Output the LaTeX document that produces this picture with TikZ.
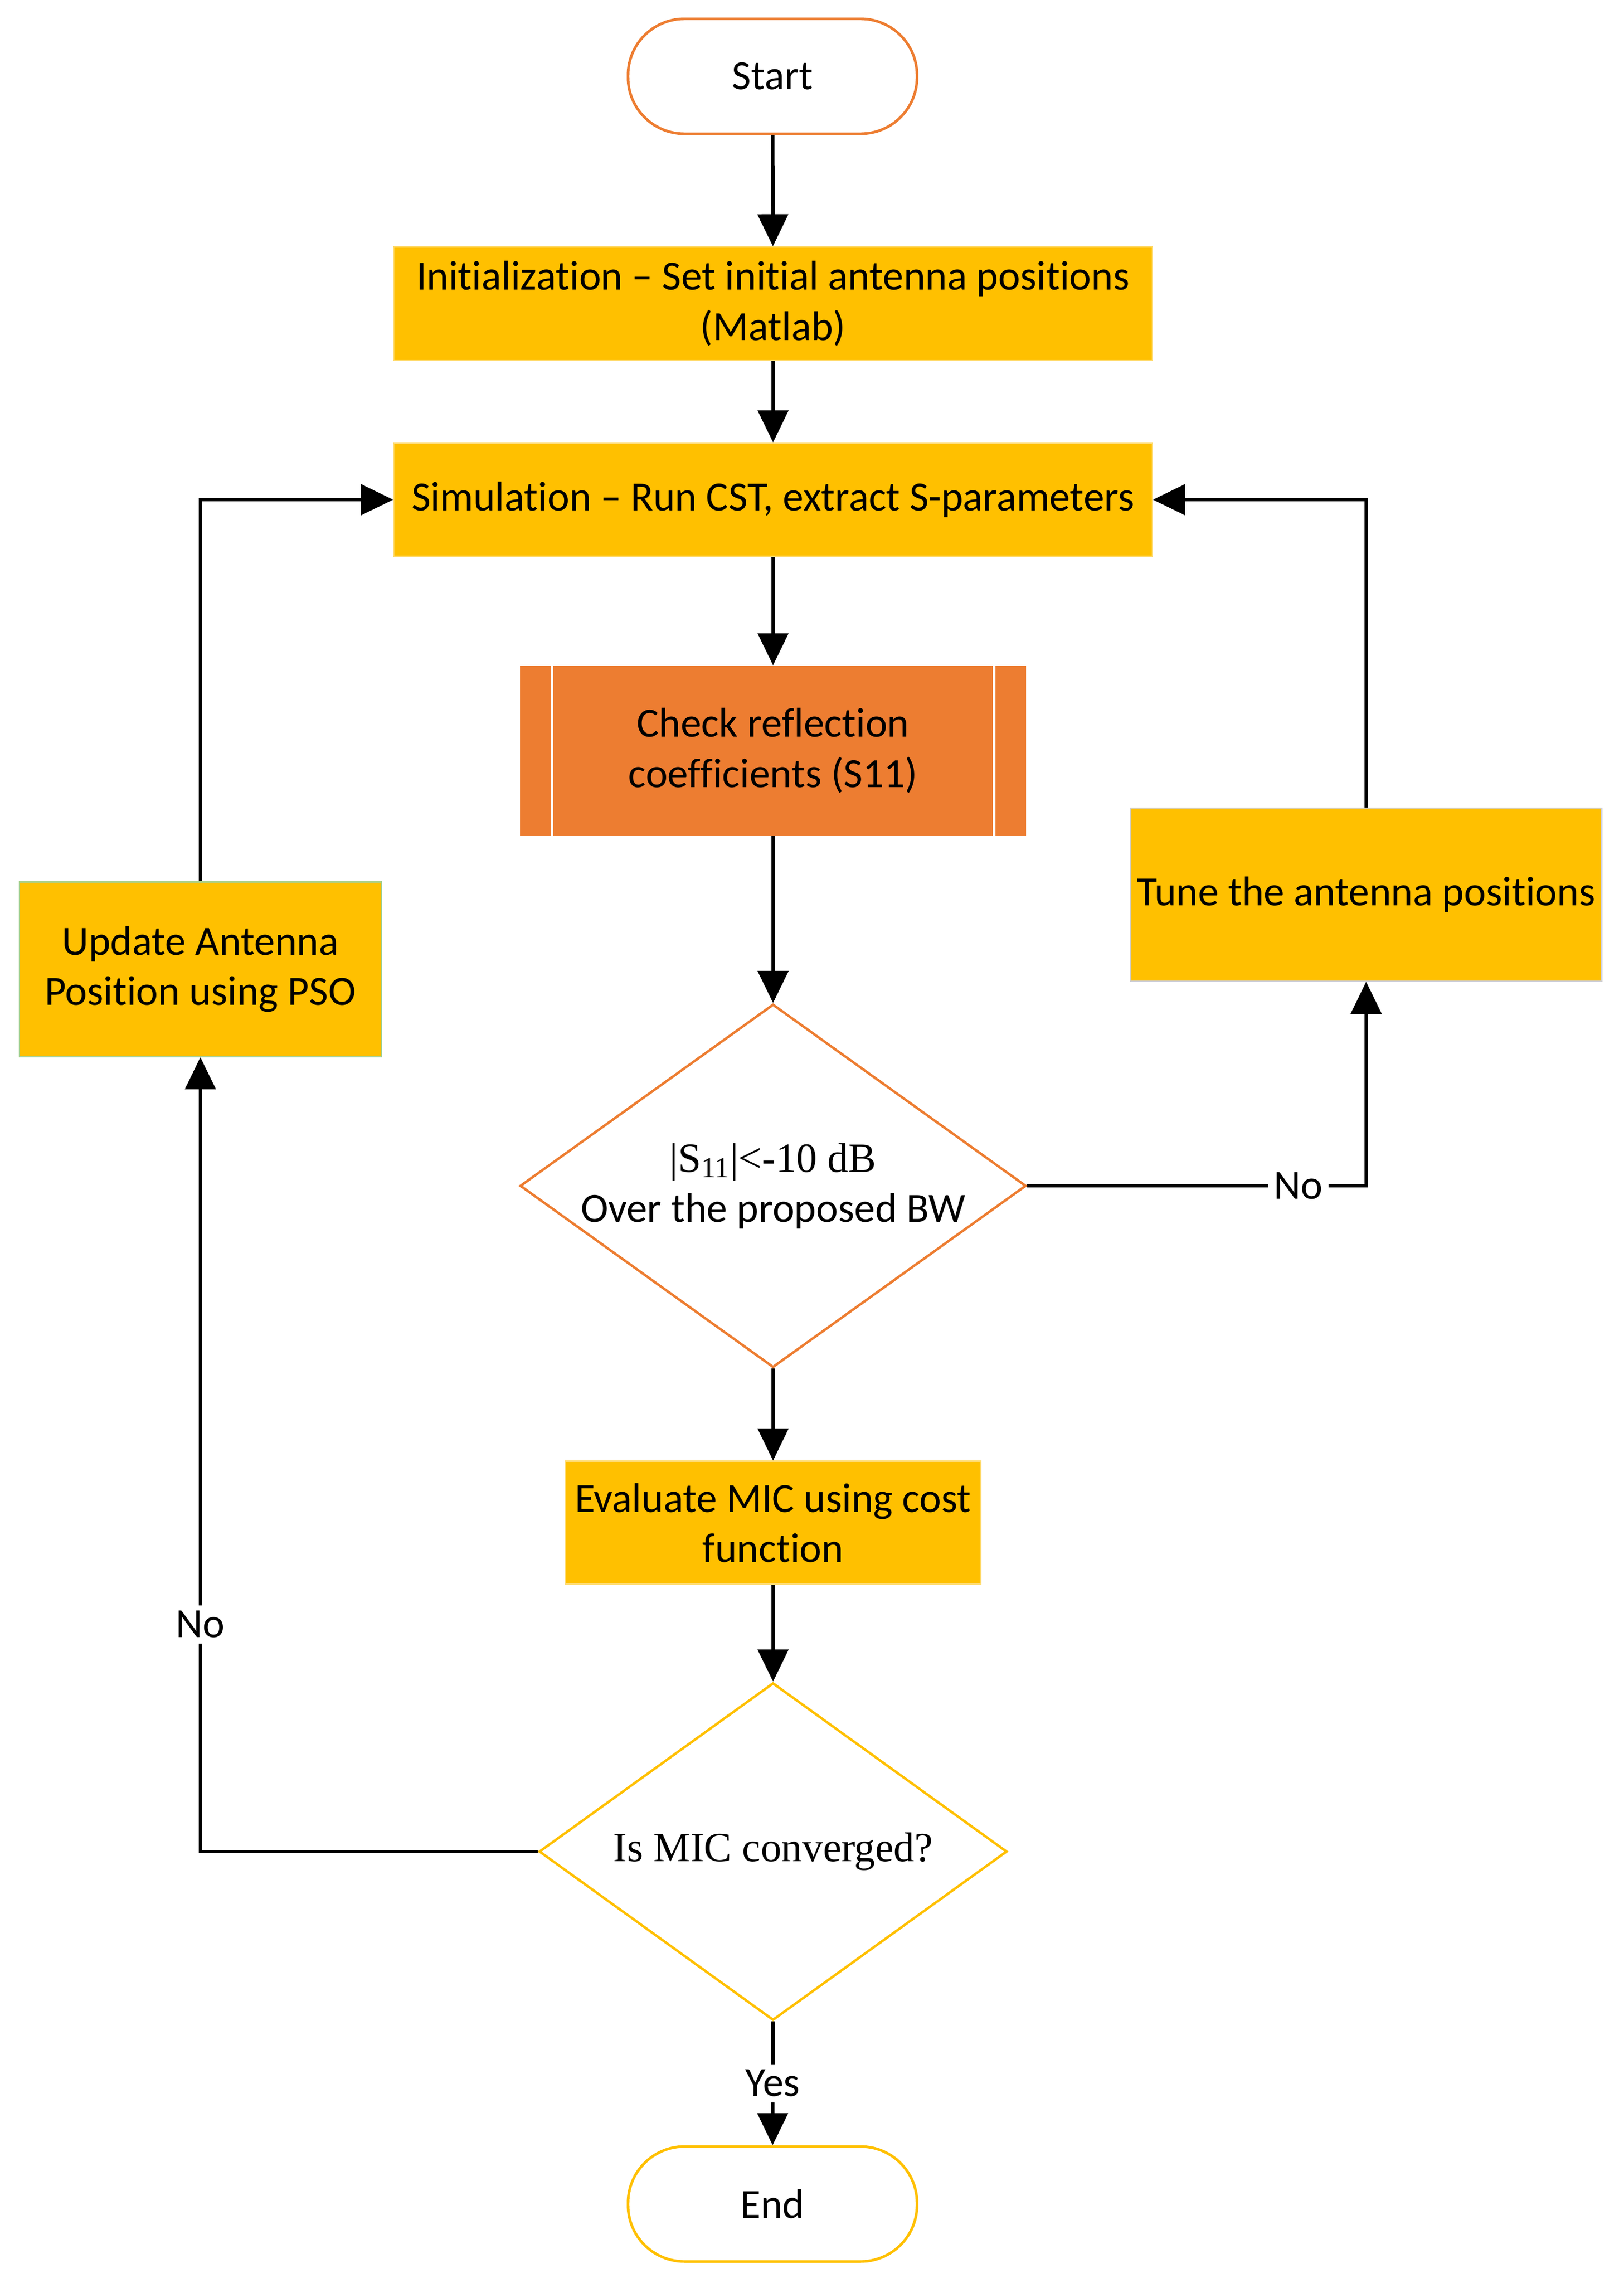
\documentclass[tikz,border=0pt]{standalone}
\usepackage{fontspec}
\setmainfont{Carlito}[Ligatures=NoCommon]
\newfontfamily\timesfont{Liberation Serif}
\usetikzlibrary{shapes.geometric,arrows.meta}
\definecolor{gold}{HTML}{FFC000}
\definecolor{burnt}{HTML}{ED7D31}
\definecolor{palegreen}{HTML}{A9D18E}
\definecolor{palegrey}{HTML}{D0CECE}

\tikzset{
    every node/.style={font=\fontsize{22}{26.5}\selectfont, align=center, inner sep=0pt},
    terminal/.style={rectangle, rounded corners=1.05cm, line width=1.4pt,
        minimum width=5.38cm, minimum height=2.14cm},
    procbox/.style={rectangle, fill=gold, draw=gold!55!white, line width=0.6pt},
    decision/.style={diamond, aspect=1.39, line width=1.3pt, fill=white},
    flow/.style={line width=1.9pt, -{Triangle[width=16pt,length=17pt]}}
}

\begin{document}
\begin{tikzpicture}
    \useasboundingbox (0, 0) rectangle (30.22, -42.49);

    % main column
    \node[terminal, draw=burnt] (start) at (14.38, -1.42) {Start};
    \node[procbox, minimum width=14.12cm, minimum height=2.11cm] (init) at (14.39, -5.65)
        {Initialization -- Set initial antenna positions\\(Matlab)};
    \node[procbox, minimum width=14.12cm, minimum height=2.11cm] (sim) at (14.39, -9.30)
        {Simulation -- Run CST, extract S-parameters};
    \node[rectangle, fill=burnt, minimum width=9.42cm, minimum height=3.16cm] (check) at (14.39, -13.97)
        {Check reflection\\coefficients (S11)};
    \draw[white, line width=1.3pt] ([xshift=0.6cm]check.north west) -- ([xshift=0.6cm]check.south west);
    \draw[white, line width=1.3pt] ([xshift=-0.6cm]check.north east) -- ([xshift=-0.6cm]check.south east);
    \node[decision, draw=burnt, minimum width=9.42cm, minimum height=6.76cm] (cond) at (14.39, -22.07)
        {{\timesfont |S\textsubscript{11}|<-10 dB}\\Over the proposed BW};
    \node[procbox, minimum width=7.74cm, minimum height=2.29cm] (eval) at (14.39, -28.34)
        {Evaluate MIC using cost\\function};
    \node[decision, draw=gold, minimum width=8.71cm, minimum height=6.28cm] (conv) at (14.39, -34.46)
        {\timesfont Is MIC converged?};
    \node[terminal, draw=gold] (stop) at (14.38, -41.02) {End};

    % side boxes
    \node[procbox, draw=palegreen, minimum width=6.74cm, minimum height=3.25cm] (update) at (3.73, -18.04)
        {Update Antenna\\Position using PSO};
    \node[procbox, draw=palegrey, minimum width=8.77cm, minimum height=3.22cm] (tune) at (25.43, -16.65)
        {Tune the antenna positions};

    % connectors
    \draw[flow] (start) -- (init);
    \draw[flow] (init) -- (sim);
    \draw[flow] (sim) -- (check);
    \draw[flow] (check) -- (cond);
    \draw[flow] (cond) -- (eval);
    \draw[flow] (eval) -- (conv);
    \draw[flow] (conv) -- node[fill=white, inner sep=3pt] {Yes} (stop);
    \draw[flow] (conv.west) -| node[pos=0.643, fill=white, inner sep=3pt] {No} (update.south);
    \draw[flow] (update.north) |- (sim.west);
    \draw[flow] (cond.east) -| node[pos=0.40, fill=white, inner sep=3pt] {No} (tune.south);
    \draw[flow] (tune.north) |- (sim.east);
\end{tikzpicture}
\end{document}
